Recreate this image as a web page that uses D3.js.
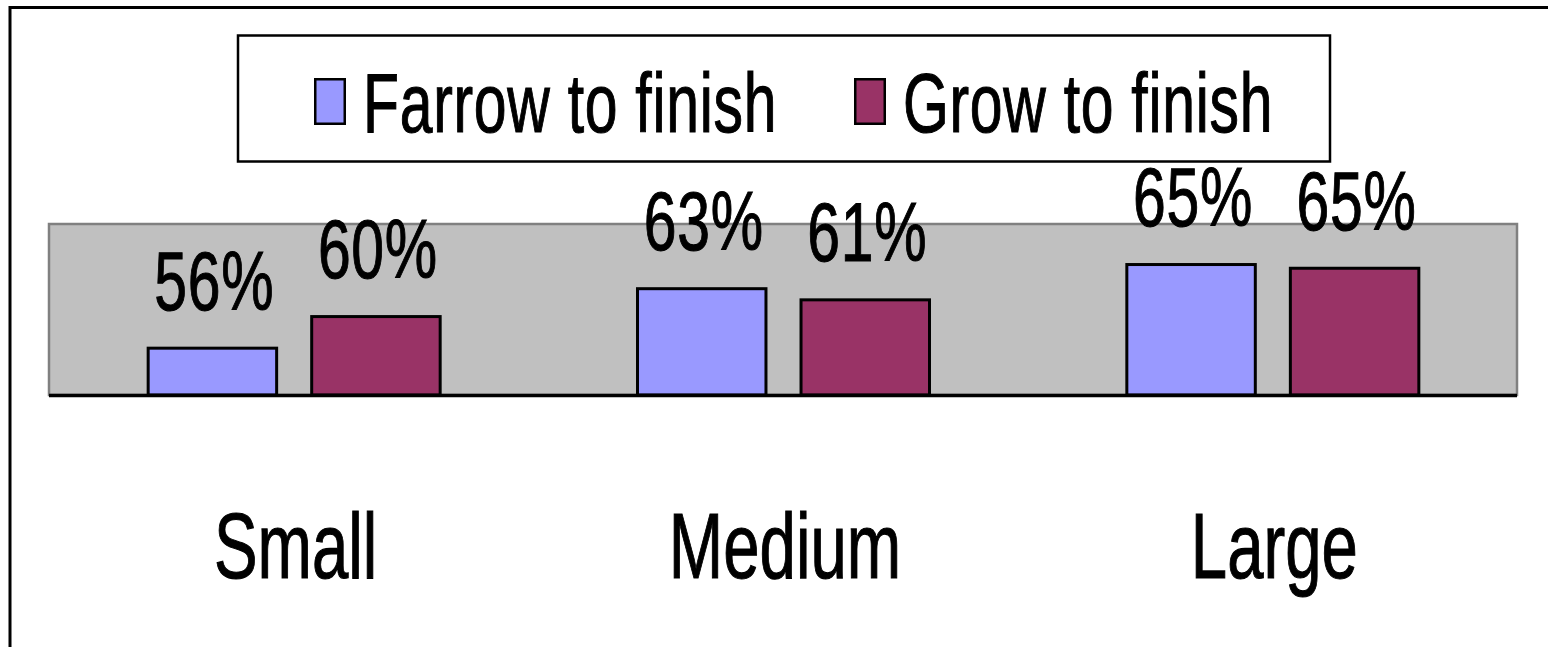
<!DOCTYPE html>
<html>
<head>
<meta charset="utf-8">
<script src="https://cdn.jsdelivr.net/npm/d3@7"></script>
<style>
  html, body { margin: 0; padding: 0; background: #fff; overflow: hidden; }
  svg { display: block; }
  text { font-family: "Liberation Sans", Arial, sans-serif; fill: #000; stroke: #000; stroke-width: 1.1; }
</style>
</head>
<body>
<svg id="chart" width="1548" height="647"></svg>
<script>
// ---- data ----
const categories = ["Small", "Medium", "Large"];
const seriesNames = ["Farrow to finish", "Grow to finish"];
const farrowValues = [56.2, 62.6, 65.2];
const growValues = [59.6, 61.4, 64.8];
const seriesColors = ["#9999FF", "#993366"];

const W = 1548, H = 647;
const svg = d3.select("#chart");
const sx = 0.71; // horizontal text compression

// outer frame (cropped on right/bottom)
svg.append("rect")
  .attr("x", 10).attr("y", 7.5).attr("width", 1700).attr("height", 800)
  .attr("fill", "#fff").attr("stroke", "#000").attr("stroke-width", 3);

// plot area
const plot = { left: 49, right: 1517, top: 224, bottom: 395 };
svg.append("rect")
  .attr("x", plot.left).attr("y", plot.top)
  .attr("width", plot.right - plot.left).attr("height", plot.bottom - plot.top)
  .attr("fill", "#C0C0C0").attr("stroke", "#808080").attr("stroke-width", 2.5);

const x0 = d3.scaleBand().domain(categories).range([plot.left, plot.right]).padding(0);
const x1 = d3.scaleBand().domain(seriesNames).range([-147, 148]).paddingInner(0.196).paddingOuter(0);
const y = d3.scaleLinear().domain([51, 69.4]).range([plot.bottom, plot.top]);
const color = d3.scaleOrdinal().domain(seriesNames).range(seriesColors);

const rows = categories.map((c, i) => ({
  cat: c,
  vals: [
    { s: seriesNames[0], v: farrowValues[i] },
    { s: seriesNames[1], v: growValues[i] }
  ]
}));

const groups = svg.selectAll("g.cat").data(rows).join("g")
  .attr("class", "cat")
  .attr("transform", d => `translate(${x0(d.cat) + x0.bandwidth() / 2},0)`);

groups.selectAll("rect").data(d => d.vals).join("rect")
  .attr("x", d => x1(d.s) + 1.5)
  .attr("width", x1.bandwidth() - 3)
  .attr("y", d => y(d.v) + 1.5)
  .attr("height", d => plot.bottom - y(d.v) - 1.5)
  .attr("fill", d => color(d.s))
  .attr("stroke", "#000").attr("stroke-width", 3);

groups.selectAll("g.lbl").data(d => d.vals).join("g")
  .attr("class", "lbl")
  .attr("transform", d => `translate(${x1(d.s) + x1.bandwidth() / 2 + 2},${y(d.v) - 37}) scale(${sx},1)`)
  .append("text")
  .attr("text-anchor", "middle")
  .attr("font-size", 83)
  .attr("letter-spacing", 1)
  .text(d => Math.round(d.v) + "%");

// baseline
svg.append("line")
  .attr("x1", plot.left).attr("x2", plot.right)
  .attr("y1", plot.bottom + 0.5).attr("y2", plot.bottom + 0.5)
  .attr("stroke", "#000").attr("stroke-width", 3.5);

// category labels
svg.selectAll("g.catlbl").data(categories).join("g")
  .attr("class", "catlbl")
  .attr("transform", d => `translate(${x0(d) + x0.bandwidth() / 2 + 2},578) scale(${sx},1)`)
  .append("text")
  .attr("text-anchor", "middle")
  .attr("font-size", 92)
  .text(d => d);

// legend
svg.append("rect")
  .attr("x", 238).attr("y", 35.5).attr("width", 1092).attr("height", 126)
  .attr("fill", "#fff").attr("stroke", "#000").attr("stroke-width", 2.5);

const legendItems = [
  { s: seriesNames[0], swX: 314, txX: 363 },
  { s: seriesNames[1], swX: 854, txX: 903 }
];
const lg = svg.selectAll("g.leg").data(legendItems).join("g").attr("class", "leg");
lg.append("rect")
  .attr("x", d => d.swX + 1.25).attr("y", 79.25)
  .attr("width", 29.5).attr("height", 44.5)
  .attr("fill", d => color(d.s))
  .attr("stroke", "#000").attr("stroke-width", 2.5);
lg.append("g")
  .attr("transform", d => `translate(${d.txX},132) scale(${sx},1)`)
  .append("text")
  .attr("font-size", 83)
  .attr("letter-spacing", 1)
  .text(d => d.s);
</script>
</body>
</html>
